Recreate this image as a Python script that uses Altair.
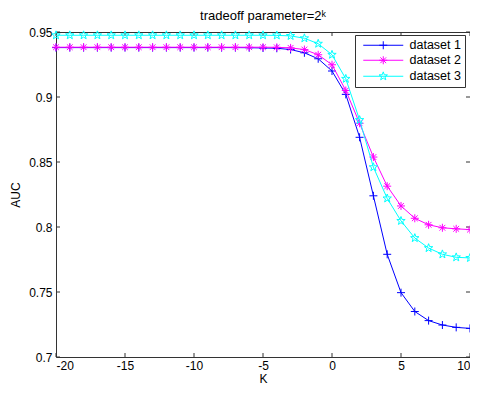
import math
import altair as alt
import pandas as pd

# ---------------- data ----------------
K = list(range(-20, 11))
dataset1 = [0.938, 0.938, 0.938, 0.938, 0.938, 0.938, 0.938, 0.938, 0.938, 0.938,
            0.938, 0.938, 0.938, 0.938, 0.9379, 0.9377, 0.9375, 0.9365, 0.934, 0.9294,
            0.920, 0.902, 0.869, 0.824, 0.779, 0.7495, 0.735, 0.728, 0.7246, 0.7228, 0.722]
dataset2 = [0.9383, 0.9383, 0.9383, 0.9383, 0.9383, 0.9383, 0.9383, 0.9383, 0.9383, 0.9383,
            0.9383, 0.9383, 0.9383, 0.9383, 0.9383, 0.9383, 0.9382, 0.9378, 0.9365, 0.9325,
            0.9248, 0.905, 0.8798, 0.8538, 0.8314, 0.8162, 0.8067, 0.8017, 0.7994, 0.7986, 0.798]
dataset3 = [0.9475, 0.9475, 0.9475, 0.9475, 0.9475, 0.9475, 0.9475, 0.9475, 0.9475, 0.9475,
            0.9475, 0.9475, 0.9475, 0.9475, 0.9475, 0.9475, 0.9474, 0.947, 0.9452, 0.941,
            0.9325, 0.914, 0.8823, 0.846, 0.822, 0.8047, 0.7915, 0.7838, 0.779, 0.7767, 0.7762]
series_names = ["dataset 1", "dataset 2", "dataset 3"]
series_values = [dataset1, dataset2, dataset3]
colors = ["#0000ff", "#ff00ff", "#00ffff"]
x_ticks = [-20, -15, -10, -5, 0, 5, 10]
y_ticks = [0.7, 0.75, 0.8, 0.85, 0.9, 0.95]
title_text = "tradeoff parameter=2\u1d4f"
x_title = "K"
y_title = "AUC"

# ---------------- marker shapes ----------------
plus_path = "M-1,0H1M0,-1V1"
ast_path = "M-1,0H1M0,-1V1M-0.72,-0.72L0.72,0.72M-0.72,0.72L0.72,-0.72"
pts = []
for i in range(10):
    r = 1.1 if i % 2 == 0 else 0.45
    a = -math.pi / 2 + i * math.pi / 5
    pts.append(f"{r*math.cos(a):.3f},{r*math.sin(a):.3f}")
star_path = "M" + "L".join(pts) + "Z"
marker_paths = [plus_path, ast_path, star_path]
legend_line = "M-5,0H5"
legend_paths = [legend_line + p for p in marker_paths]

rows = []
for name, vals in zip(series_names, series_values):
    for k, v in zip(K, vals):
        rows.append({"K": k, "AUC": v, "series": name})
df = pd.DataFrame(rows)

W, H = 414, 325
FONT = "Liberation Sans"

xscale = alt.Scale(domain=[-20, 10], nice=False, zero=False)
yscale = alt.Scale(domain=[0.7, 0.95], nice=False, zero=False)
xaxis = alt.Axis(values=x_ticks, ticks=False, domain=False, grid=False, labelPadding=3,
                 title=x_title, titlePadding=2, labelExpr="'' + datum.value",
                 labelFont=FONT, labelFontSize=12, labelColor="black",
                 titleFont=FONT, titleFontSize=12, titleFontWeight="normal", titleColor="black")
yaxis = alt.Axis(values=y_ticks, ticks=False, domain=False, grid=False, labelPadding=4,
                 title=y_title, titlePadding=6, labelExpr="'' + datum.value",
                 labelFont=FONT, labelFontSize=12, labelColor="black",
                 titleFont=FONT, titleFontSize=12, titleFontWeight="normal", titleColor="black")

layers = []
for name, col, path in zip(series_names, colors, marker_paths):
    base = alt.Chart(df).transform_filter(alt.datum.series == name)
    layers.append(base.mark_line(color=col, strokeWidth=1).encode(
        x=alt.X("K:Q", scale=xscale, axis=xaxis),
        y=alt.Y("AUC:Q", scale=yscale, axis=yaxis)))
    layers.append(base.mark_point(shape=path, filled=False, color=col, strokeWidth=1,
                                  size=64, opacity=1).encode(
        x=alt.X("K:Q", scale=xscale, axis=xaxis),
        y=alt.Y("AUC:Q", scale=yscale, axis=yaxis)))

leg = alt.Legend(title=None, orient="none", legendX=299, legendY=3, direction="vertical",
                 strokeColor="#333333", fillColor="white", padding=4, cornerRadius=0,
                 symbolSize=64, symbolStrokeWidth=1, symbolOffset=18, labelOffset=20,
                 labelFont=FONT, labelFontSize=12.5, labelColor="black", rowPadding=2,
                 symbolOpacity=1)
legend_layer = alt.Chart(df).mark_point(filled=False, opacity=0, size=64).encode(
    x=alt.X("K:Q", scale=xscale, axis=xaxis),
    y=alt.Y("AUC:Q", scale=yscale, axis=yaxis),
    color=alt.Color("series:N", scale=alt.Scale(domain=series_names, range=colors), legend=leg),
    shape=alt.Shape("series:N", scale=alt.Scale(domain=series_names, range=legend_paths), legend=leg),
)

xt = pd.DataFrame({"K": x_ticks})
yt = pd.DataFrame({"AUC": y_ticks})
TK = 4
tick_col = "#333333"
ticks = [
    alt.Chart(xt).mark_rule(color=tick_col, strokeWidth=1).encode(
        x=alt.X("K:Q", scale=xscale, axis=xaxis), y=alt.value(H), y2=alt.value(H - TK)),
    alt.Chart(xt).mark_rule(color=tick_col, strokeWidth=1).encode(
        x=alt.X("K:Q", scale=xscale, axis=xaxis), y=alt.value(0), y2=alt.value(TK)),
    alt.Chart(yt).mark_rule(color=tick_col, strokeWidth=1).encode(
        y=alt.Y("AUC:Q", scale=yscale, axis=yaxis), x=alt.value(0), x2=alt.value(TK)),
    alt.Chart(yt).mark_rule(color=tick_col, strokeWidth=1).encode(
        y=alt.Y("AUC:Q", scale=yscale, axis=yaxis), x=alt.value(W - TK), x2=alt.value(W)),
]

chart = alt.layer(*ticks, *layers, legend_layer).properties(
    width=W, height=H,
    background="white",
    title=alt.TitleParams(title_text, font=FONT, fontSize=13, fontWeight="normal",
                          color="black", anchor="middle", offset=3),
    autosize=alt.AutoSizeParams(type="none"),
    padding={"left": 48, "top": 24, "right": 0, "bottom": 29},
).configure_view(stroke="#333333", strokeWidth=1)

chart.save("out.html", embed_options={"renderer": "svg", "actions": False})
